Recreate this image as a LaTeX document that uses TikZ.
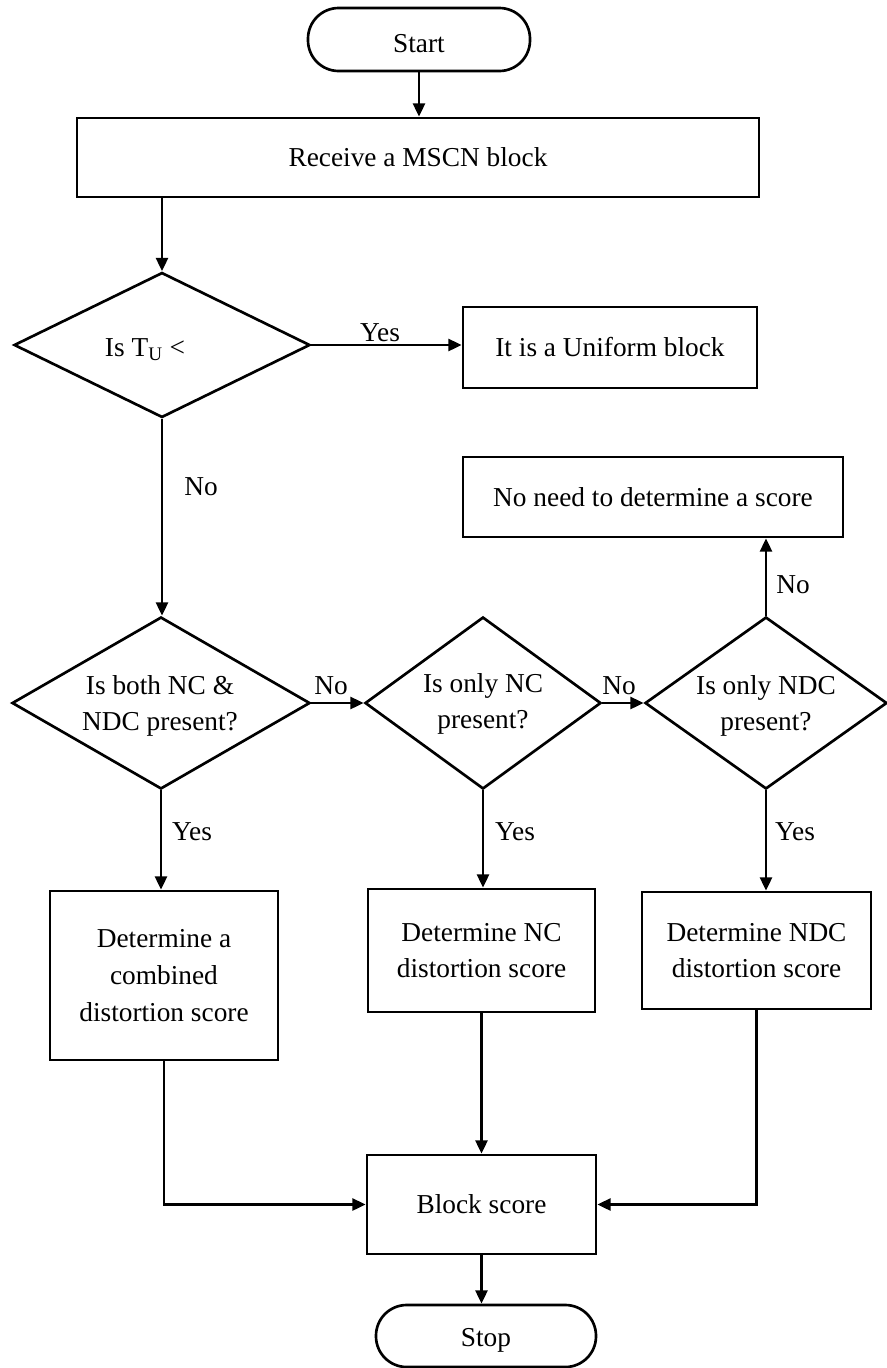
\documentclass[tikz,border=0pt]{standalone}
\usepackage{fontspec}
\setmainfont{Liberation Serif}
\usetikzlibrary{shapes.geometric,arrows.meta}
\begin{document}
\begin{tikzpicture}[x=0.75pt,y=-0.75pt,
  every node/.style={font=\fontsize{20.5}{27.5}\selectfont, align=center, inner sep=0pt},
  box/.style={draw, line width=2pt, rectangle},
  term/.style={draw, line width=2pt, rectangle, rounded corners=23pt},
  dia/.style={draw, line width=2pt, diamond},
  conn/.style={line width=2pt, -{Triangle[length=10pt,width=9pt]}},
  lbl/.style={}
]
\useasboundingbox (0,0) rectangle (887,1368);

% terminals
\node[term, minimum width=166.5pt, minimum height=47.25pt] (start) at (419,39.5) {};
\node (startt) at (419,44) {Start};
\node[term, minimum width=165pt, minimum height=46.5pt] (stop) at (486,1336) {};
\node (stopt) at (486,1340) {Stop};

% boxes
\node[box, minimum width=511.5pt, minimum height=59.25pt] (rec) at (418,157.5) {Receive a MSCN block};
\node[box, minimum width=220.5pt, minimum height=60.75pt] (uni) at (610,347.5) {It is a Uniform block};
\node[box, minimum width=285pt, minimum height=60pt] (noneed) at (653,497) {No need to determine a score};
\node[box, minimum width=171pt, minimum height=126.75pt] (b1) at (164,975.5) {Determine a\\combined\\distortion score};
\node[box, minimum width=170.25pt, minimum height=92.25pt] (b2) at (481.5,950.5) {Determine NC\\distortion score};
\node[box, minimum width=171.75pt, minimum height=87.75pt] (b3) at (756.5,950.5) {Determine NDC\\distortion score};
\node[box, minimum width=171.75pt, minimum height=74.25pt] (score) at (481.5,1204.5) {Block score};

% diamonds
\node[dia, minimum width=222pt, minimum height=108.75pt] (d1) at (162,345) {};
\node (d1t) at (145,350) {Is T\textsubscript{U} <};
\node[dia, minimum width=223.5pt, minimum height=129pt] (dboth) at (161,703) {};
\node (dbotht) at (160,706) {Is both NC \&\\NDC present?};
\node[dia, minimum width=177pt, minimum height=129pt] (donc) at (483,703) {};
\node (donct) at (483,704) {Is only NC\\present?};
\node[dia, minimum width=181.5pt, minimum height=129pt] (dondc) at (766,703) {};
\node (dondct) at (766,706) {Is only NDC\\present?};

% connectors
\draw[conn] (start.south) -- (start.south |- rec.north);
\draw[conn] (d1.north |- rec.south) -- (d1.north);
\draw[conn] (d1.east) -- (d1.east -| uni.west);
\draw[conn] (d1.south) -- (d1.south |- dboth.north);
\draw[conn] (dboth.east) -- (donc.west);
\draw[conn] (donc.east) -- (dondc.west);
\draw[conn] (dondc.north) -- (dondc.north |- noneed.south);
\draw[conn] (dboth.south) -- (dboth.south |- b1.north);
\draw[conn] (donc.south) -- (donc.south |- b2.north);
\draw[conn] (dondc.south) -- (dondc.south |- b3.north);
\draw[conn] (b1.south) |- (score.west);
\draw[conn] (b2.south) -- (b2.south |- score.north);
\draw[conn] (b3.south) |- (score.east);
\draw[conn] (score.south) -- (score.south |- stop.north);

% labels
\node[lbl] (l1) at (380,333) {Yes};
\node[lbl] (l2) at (201,487) {No};
\node[lbl] (l3) at (331,686) {No};
\node[lbl] (l4) at (619,686) {No};
\node[lbl] (l5) at (793,585) {No};
\node[lbl] (l6) at (192,832) {Yes};
\node[lbl] (l7) at (515,832) {Yes};
\node[lbl] (l8) at (795,832) {Yes};
\end{tikzpicture}
\end{document}
